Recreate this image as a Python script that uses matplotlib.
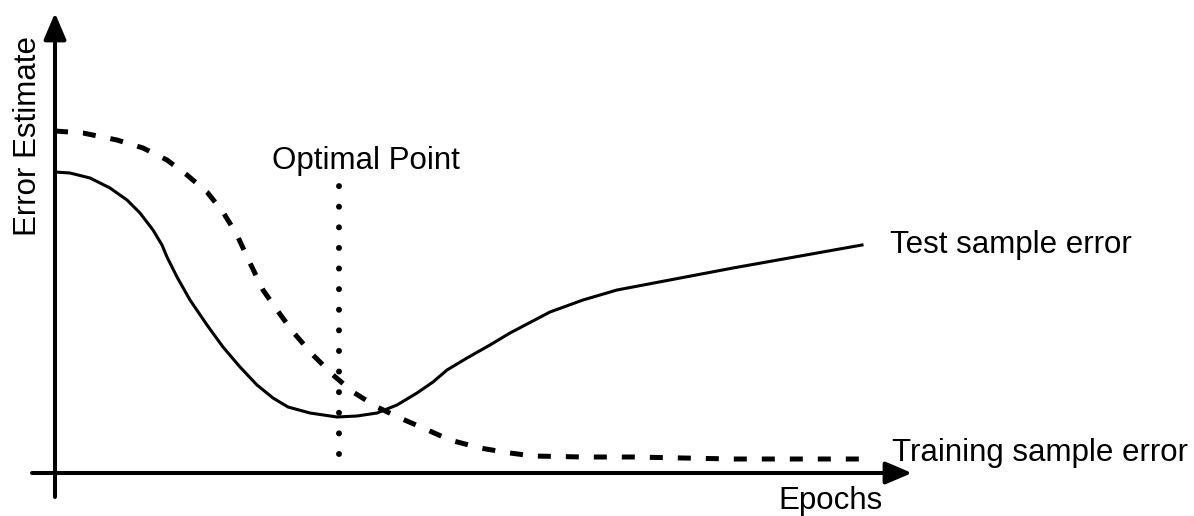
import matplotlib
matplotlib.use("Agg")
import matplotlib.pyplot as plt

# ---- data (epochs, error in arbitrary units) ----
test_epochs = [0, 15, 35, 55, 72, 85, 98, 107, 112, 122, 135, 152, 168, 185, 202, 218, 233, 255,
               282, 302, 322, 342, 362, 378, 392, 412, 435, 455, 495, 528, 562, 678, 807]
test_error = [301, 300, 295, 285, 273, 260, 243, 228, 216, 196, 173, 148, 126, 106, 88, 75, 66, 60,
              56, 57, 60, 68, 80, 91, 103, 115, 128, 140, 161, 173, 183, 205, 228]

train_epochs = [0, 28, 62, 88, 112, 132, 152, 168, 182, 195, 208, 222, 238, 258, 278, 298, 322, 345,
                368, 395, 425, 455, 478, 528, 578, 678, 808]
train_error = [342, 340, 333, 325, 313, 298, 281, 261, 238, 210, 183, 163, 141, 118, 98, 81, 66, 55,
               45, 33, 25, 20, 17, 16, 16, 14, 14]

optimal_epoch = 284
optimal_range = [19, 287]

labels = {"test": "Test sample error", "train": "Training sample error",
          "opt": "Optimal Point", "x": "Epochs", "y": "Error Estimate"}

plt.rcParams['font.family'] = ['Liberation Sans', 'DejaVu Sans']

fig = plt.figure(figsize=(11.94, 5.16), dpi=100)
ax = fig.add_axes([0, 0, 1, 1])
ax.set_xlim(-55, 1139)
ax.set_ylim(-43, 473)
ax.axis('off')

# axes arrows
arrow = dict(arrowstyle='-|>,head_length=0.8,head_width=0.34', lw=2.9, color='black',
             shrinkA=0, shrinkB=0, mutation_scale=20)
ax.annotate('', xy=(0, 460), xytext=(0, -24), arrowprops=arrow)
ax.annotate('', xy=(857, 0), xytext=(-23, 0), arrowprops=arrow)

# curves
ax.plot(test_epochs, test_error, color='black', lw=2.2, solid_joinstyle='round')
ax.plot(train_epochs, train_error, color='black', lw=3.6, linestyle=(0, (2.6, 3.0)))
ax.plot([optimal_epoch, optimal_epoch], optimal_range, color='black', lw=4.3,
        linestyle=(0, (0.01, 3.44)), dash_capstyle='round')

fs = 22.5
ax.text(-27, 337, labels["y"], rotation=90, ha='center', va='center', fontsize=fs)
ax.text(311, 304, labels["opt"], ha='center', va='baseline', fontsize=fs)
ax.text(835, 220, labels["test"], ha='left', va='baseline', fontsize=fs)
ax.text(837, 12, labels["train"], ha='left', va='baseline', fontsize=fs)
ax.text(723, -36, labels["x"], ha='left', va='baseline', fontsize=fs)

fig.savefig("out.png", dpi=100)
